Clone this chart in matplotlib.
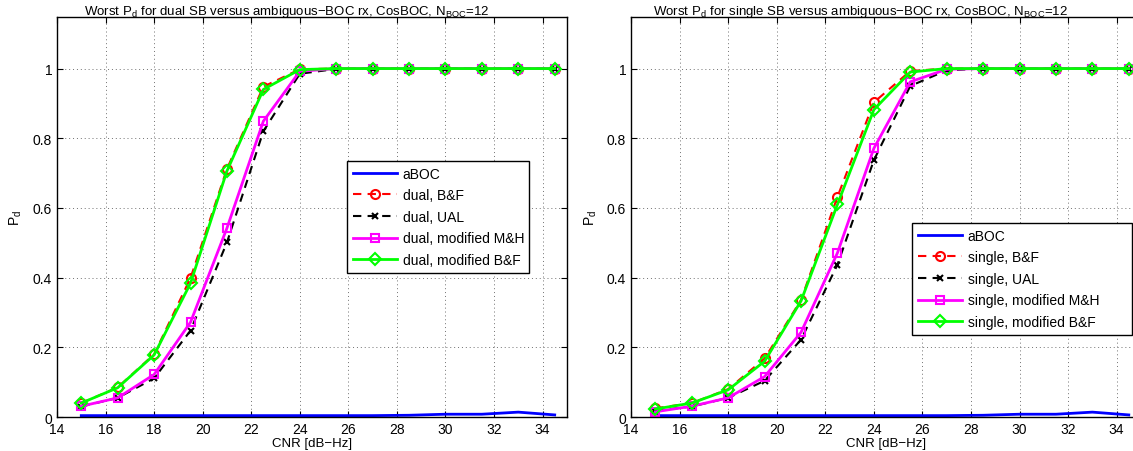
import numpy as np
import matplotlib
matplotlib.use("Agg")
import matplotlib.pyplot as plt

plt.rcParams['font.family'] = ['Liberation Sans', 'DejaVu Sans']

cnr = [15, 16.5, 18, 19.5, 21, 22.5, 24, 25.5, 27, 28.5, 30, 31.5, 33, 34.5]
aboc = [0.004, 0.004, 0.004, 0.004, 0.004, 0.004, 0.004, 0.004, 0.004, 0.005, 0.008, 0.008, 0.014, 0.006]

# dual SB (left)
dual_bf = [0.040, 0.085, 0.180, 0.399, 0.712, 0.948, 0.998, 1, 1, 1, 1, 1, 1, 1]
dual_ual = [0.030, 0.055, 0.111, 0.248, 0.501, 0.820, 0.985, 0.999, 1, 1, 1, 1, 1, 1]
dual_mmh = [0.031, 0.055, 0.122, 0.272, 0.542, 0.849, 0.992, 1, 1, 1, 1, 1, 1, 1]
dual_mbf = [0.040, 0.084, 0.178, 0.384, 0.706, 0.940, 0.997, 1, 1, 1, 1, 1, 1, 1]

# single SB (right)
single_bf = [0.025, 0.040, 0.080, 0.168, 0.336, 0.632, 0.903, 0.993, 1, 1, 1, 1, 1, 1]
single_ual = [0.018, 0.030, 0.055, 0.104, 0.222, 0.437, 0.737, 0.950, 0.995, 1, 1, 1, 1, 1]
single_mmh = [0.015, 0.031, 0.055, 0.116, 0.243, 0.471, 0.771, 0.962, 0.998, 1, 1, 1, 1, 1]
single_mbf = [0.023, 0.040, 0.078, 0.160, 0.333, 0.610, 0.882, 0.990, 1, 1, 1, 1, 1, 1]

fig = plt.figure(figsize=(11.33, 4.52), dpi=100)
ax1 = fig.add_axes([0.0503, 0.0752, 0.450, 0.885])
ax2 = fig.add_axes([0.557, 0.0752, 0.450, 0.885])


def draw(ax, bf, ual, mmh, mbf, prefix, title, legbox):
    ax.plot(cnr, aboc, "-", color="b", lw=2, label="aBOC")
    ax.plot(cnr, bf, "--", color="r", lw=1.5, dashes=(4, 3), marker="o", ms=6.5, mfc="none", mec="r", mew=1.5,
            label=prefix + ", B&F")
    ax.plot(cnr, ual, "--", color="k", lw=1.5, dashes=(4, 3), marker="x", ms=5, mec="k", mew=1.5,
            label=prefix + ", UAL")
    ax.plot(cnr, mmh, "-", color="#ff00ff", lw=2, marker="s", ms=6, mfc="none", mec="#ff00ff", mew=1.5,
            label=prefix + ", modified M&H")
    ax.plot(cnr, mbf, "-", color="#00ff00", lw=2, marker="D", ms=6, mfc="none", mec="#00ff00", mew=1.5,
            label=prefix + ", modified B&F")
    ax.set_xlim(14, 35)
    ax.set_ylim(0, 1.148)
    ax.set_xticks(range(14, 35, 2))
    ax.set_yticks([0, 0.2, 0.4, 0.6, 0.8, 1])
    ax.set_yticklabels(["0", "0.2", "0.4", "0.6", "0.8", "1"])
    ax.tick_params(direction="in", labelsize=10, length=4, top=True, right=True)
    ax.grid(True, linestyle=(0, (1, 3)), color="#707070", lw=0.7)
    for s in ax.spines.values():
        s.set_linewidth(1)
    ax.set_title(title, fontsize=9.5, pad=2, x=0.45)
    ax.set_xlabel("CNR [dB\u2212Hz]", fontsize=9.5, labelpad=1)
    ax.set_ylabel("P$_\\mathregular{d}$", fontsize=10, labelpad=6)
    leg = ax.legend(loc="upper left", bbox_to_anchor=legbox, mode="expand", fontsize=10, fancybox=False,
                    edgecolor="k", framealpha=1, handlelength=3.2, borderpad=0.4, labelspacing=0.55,
                    handletextpad=0.4, borderaxespad=0)
    leg.get_frame().set_linewidth(1)


draw(ax1, dual_bf, dual_ual, dual_mmh, dual_mbf, "dual",
     "Worst P$_\\mathregular{d}$ for dual SB versus ambiguous\u2212BOC rx, CosBOC, N$_\\mathregular{BOC}$=12",
     (0.569, 0.355, 0.357, 0.285))
draw(ax2, single_bf, single_ual, single_mmh, single_mbf, "single",
     "Worst P$_\\mathregular{d}$ for single SB versus ambiguous\u2212BOC rx, CosBOC, N$_\\mathregular{BOC}$=12",
     (0.551, 0.2, 0.431, 0.285))

fig.savefig("out.png", dpi=100)
